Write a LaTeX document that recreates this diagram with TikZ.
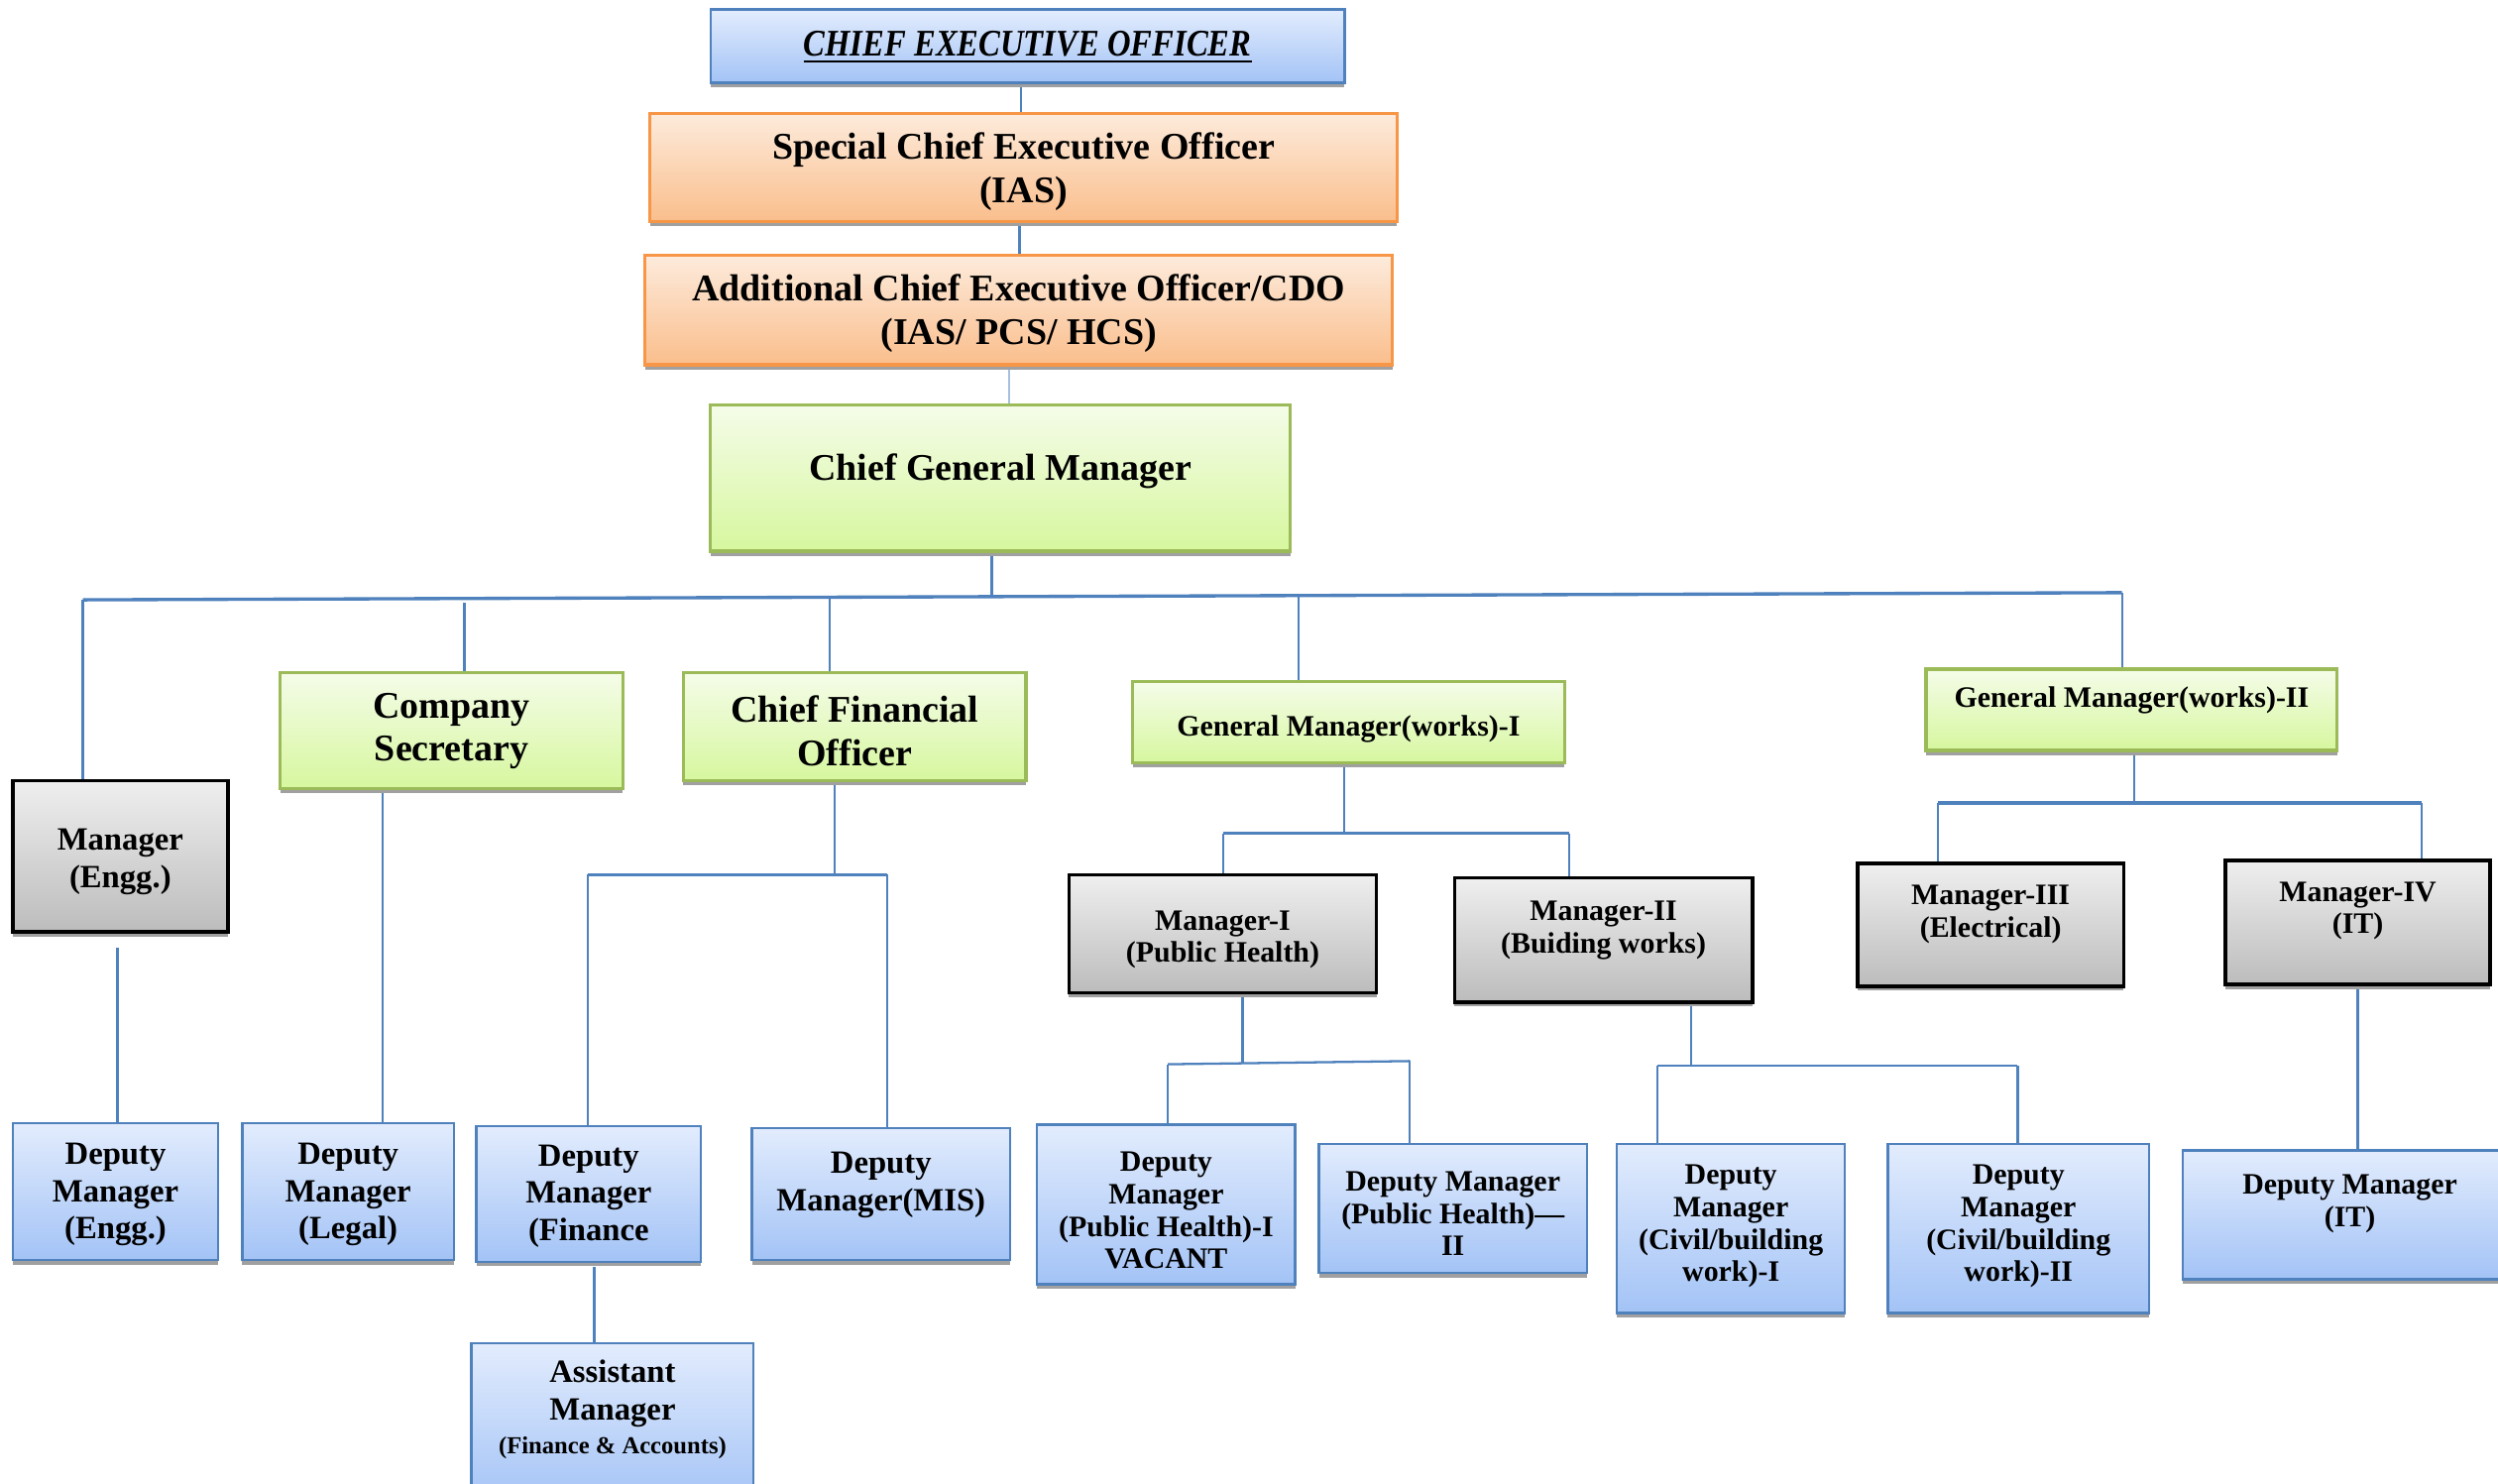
\documentclass[tikz,border=0pt]{standalone}
\usepackage{fontspec}
\setmainfont{Liberation Serif}
\usetikzlibrary{shadows,calc}
\definecolor{lnblue}{RGB}{79,129,189}
\definecolor{blueT}{RGB}{226,236,253}
\definecolor{blueB}{RGB}{163,195,246}
\definecolor{bdblue}{RGB}{79,129,189}
\definecolor{orangeT}{RGB}{253,235,220}
\definecolor{orangeB}{RGB}{250,190,140}
\definecolor{bdorange}{RGB}{247,150,70}
\definecolor{greenT}{RGB}{245,252,233}
\definecolor{greenB}{RGB}{214,247,158}
\definecolor{bdgreen}{RGB}{155,187,89}
\definecolor{grayT}{RGB}{239,239,239}
\definecolor{grayB}{RGB}{188,188,188}
\definecolor{shadowgray}{RGB}{160,160,160}
\pgfdeclarelayer{bg}
\pgfsetlayers{bg,main}
\tikzset{
  bx/.style={rectangle, inner sep=0pt, line width=0.7pt,
    drop shadow={shadow xshift=0pt, shadow yshift=-1.3pt, fill=shadowgray, opacity=1}},
  bluebox/.style={bx, draw=bdblue, top color=blueT, bottom color=blueB},
  orangebox/.style={bx, draw=bdorange, line width=0.9pt, top color=orangeT, bottom color=orangeB},
  greenbox/.style={bx, draw=bdgreen, line width=0.9pt, top color=greenT, bottom color=greenB},
  graybox/.style={bx, draw=black, line width=1pt, top color=grayT, bottom color=grayB},
  tbig/.style={font=\bfseries\fontsize{10.8}{12.35}\selectfont, align=center, inner sep=0pt},
  tmed/.style={font=\bfseries\fontsize{9.3}{10.75}\selectfont, align=center, inner sep=0pt},
  tsml/.style={font=\bfseries\fontsize{8.5}{9.3}\selectfont, align=center, inner sep=0pt},
  conn/.style={draw=lnblue, line width=0.65pt},
  bus/.style={draw=lnblue, line width=0.95pt},
}
\newcommand\orgbox[9]{%
  \pgfmathsetmacro\obw{(#6-#4)*0.01607}%
  \pgfmathsetmacro\obh{(#7-#5)*0.01607}%
  \node[#2, minimum width=\obw cm, minimum height=\obh cm] (#1) at ({(#4+#6)/2},{(#5+#7)/2}) {};%
  \node[#3] (#1-t) at ({(#4+#6)/2},{#8+2.8}) {#9};%
}
\begin{document}
\begin{tikzpicture}[x=0.01607cm, y=-0.01607cm]
\useasboundingbox (0,0) rectangle (1568,931);
% top chain
\orgbox{ceo}{bluebox}{tbig}{446}{6}{844}{52}{27}{\scalebox{0.86}[1]{\itshape\underline{CHIEF EXECUTIVE OFFICER}}}
\orgbox{sceo}{orangebox}{tbig}{408}{71}{877}{139}{105}{Special Chief Executive Officer\\(IAS)}
\orgbox{aceo}{orangebox}{tbig}{405}{160}{874}{229}{194}{Additional Chief Executive Officer/CDO\\(IAS/ PCS/ HCS)}
\orgbox{cgm}{greenbox}{tbig}{446}{254}{810}{346}{293}{Chief General Manager}
% second level
\orgbox{mgrE}{graybox}{tmed}{8}{490}{143}{585}{538}{Manager\\(Engg.)}
\orgbox{cs}{greenbox}{tbig}{176}{422}{391}{495}{456}{Company\\Secretary}
\orgbox{cfo}{greenbox}{tbig}{429}{422}{644}{490}{456}{Chief Financial\\Officer}
\orgbox{gm1}{greenbox}{tsml}{711}{428}{982}{479}{455}{General Manager(works)-I}
\orgbox{gm2}{greenbox}{tsml}{1209}{420}{1467}{471}{437}{General Manager(works)-II}
% managers
\orgbox{mgr1}{graybox}{tsml}{671}{549}{864}{623}{587}{Manager-I\\(Public Health)}
\orgbox{mgr2}{graybox}{tsml}{913}{551}{1100}{629}{581}{Manager-II\\(Buiding works)}
\orgbox{mgr3}{graybox}{tsml}{1166}{542}{1333}{619}{571}{Manager-III\\(Electrical)}
\orgbox{mgr4}{graybox}{tsml}{1397}{540}{1563}{618}{569}{Manager-IV\\(IT)}
% deputy managers
\orgbox{dmE}{bluebox}{tmed}{8}{705}{137}{791}{747}{Deputy\\Manager\\(Engg.)}
\orgbox{dmL}{bluebox}{tmed}{152}{705}{285}{791}{747}{Deputy\\Manager\\(Legal)}
\orgbox{dmF}{bluebox}{tmed}{299}{707}{440}{792}{748}{Deputy\\Manager\\(Finance}
\orgbox{dmM}{bluebox}{tmed}{472}{708}{634}{791}{741}{Deputy\\Manager(MIS)}
\orgbox{asst}{bluebox}{tmed}{296}{843}{473}{945}{882}{Assistant\\Manager\\[-1pt]{\fontsize{7}{8}\selectfont (Finance \& Accounts)}}
\orgbox{dmP1}{bluebox}{tsml}{651}{706}{813}{806}{757}{Deputy\\Manager\\(Public Health)-I\\VACANT}
\orgbox{dmP2}{bluebox}{tsml}{828}{718}{996}{799}{759}{Deputy Manager\\(Public Health)---\\II}
\orgbox{dmC1}{bluebox}{tsml}{1015}{718}{1158}{824}{767}{Deputy\\Manager\\(Civil/building\\work)-I}
\orgbox{dmC2}{bluebox}{tsml}{1185}{718}{1349}{824}{767}{Deputy\\Manager\\(Civil/building\\work)-II}
\orgbox{dmIT}{bluebox}{tsml}{1370}{722}{1580}{803}{753}{Deputy Manager\\(IT)}
% junction coordinates
\coordinate (k1) at (641,0);
\coordinate (k2) at (640,0);
\coordinate (k3) at (633.5,0);
\coordinate (j0) at (622.5,374.8);
\coordinate (bL) at (52,376.5);
\coordinate (bR) at (1332,372);
\coordinate (jCS) at (291.5,378.4);
\coordinate (jCF) at (521,375.2);
\coordinate (jG1) at (815,373.8);
\coordinate (kME) at (73.8,595);
\coordinate (kCS) at (240,0);
\coordinate (jF) at (524,549);
\coordinate (fL) at (368.8,549);
\coordinate (fR) at (556.8,549);
\coordinate (kAs) at (373,795);
\coordinate (jG1d) at (843.6,523);
\coordinate (g1L) at (768,523);
\coordinate (g1R) at (985,523);
\coordinate (jG2d) at (1339.5,504);
\coordinate (g2L) at (1216.5,504);
\coordinate (g2R) at (1520,504);
\coordinate (jM1) at (780,667);
\coordinate (m1L) at (733,668);
\coordinate (m1R) at (885,666);
\coordinate (jM2) at (1061.7,669);
\coordinate (m2L) at (1040.5,669);
\coordinate (m2R) at (1266.5,669);
\coordinate (kM4) at (1480,0);
\begin{pgfonlayer}{bg}
\draw[conn] (ceo.south -| k1) -- (sceo.north -| k1);
\draw[conn] (sceo.south -| k2) -- (aceo.north -| k2);
\draw[conn, draw=lnblue!50] (aceo.south -| k3) -- (cgm.north -| k3);
\draw[conn] (cgm.south -| j0) -- (j0);
\draw[bus] (bL) -- (bR);
\draw[conn] (bL) -- (mgrE.north -| bL);
\draw[conn] (jCS) -- (cs.north -| jCS);
\draw[conn] (jCF) -- (cfo.north -| jCF);
\draw[conn] (jG1) -- (gm1.north -| jG1);
\draw[conn] (bR) -- (gm2.north -| bR);
\draw[conn] (kME) -- (dmE.north -| kME);
\draw[conn] (cs.south -| kCS) -- (dmL.north -| kCS);
\draw[conn] (cfo.south -| jF) -- (jF);
\draw[bus] (fL) -- (fR);
\draw[conn] (fL) -- (dmF.north -| fL);
\draw[conn] (fR) -- (dmM.north -| fR);
\draw[conn] (kAs) -- (asst.north -| kAs);
\draw[conn] (gm1.south -| jG1d) -- (jG1d);
\draw[bus] (g1L) -- (g1R);
\draw[conn] (g1L) -- (mgr1.north -| g1L);
\draw[conn] (g1R) -- (mgr2.north -| g1R);
\draw[conn] (gm2.south -| jG2d) -- (jG2d);
\draw[bus] (g2L) -- (g2R);
\draw[conn] (g2L) -- (mgr3.north -| g2L);
\draw[conn] (g2R) -- (mgr4.north -| g2R);
\draw[conn] (mgr1.south -| jM1) -- (jM1);
\draw[conn] (m1L) -- (m1R);
\draw[conn] (m1L) -- (dmP1.north -| m1L);
\draw[conn] (m1R) -- (dmP2.north -| m1R);
\draw[conn] (mgr2.south -| jM2) -- (jM2);
\draw[conn] (m2L) -- (m2R);
\draw[conn] (m2L) -- (dmC1.north -| m2L);
\draw[conn] (m2R) -- (dmC2.north -| m2R);
\draw[conn] (mgr4.south -| kM4) -- (dmIT.north -| kM4);
\end{pgfonlayer}
\end{tikzpicture}
\end{document}
